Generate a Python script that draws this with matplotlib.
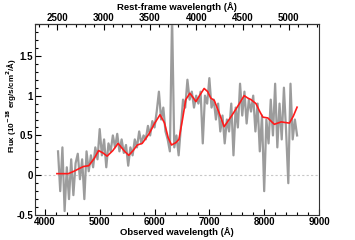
import numpy as np
import matplotlib
matplotlib.use("Agg")
import matplotlib.pyplot as plt
from matplotlib.ticker import MultipleLocator, FormatStrFormatter

plt.rcParams['font.family'] = ['Liberation Sans', 'DejaVu Sans']
plt.rcParams['font.weight'] = 'bold'
plt.rcParams['axes.unicode_minus'] = False

zplus1 = 1.69

# observed spectrum, sampled every 40 A starting at 4240 A
wave0, dwave = 4240, 40
flux = [0.30, -0.20, 0.35, -0.45, 0.10, -0.30, 0.20, -0.25, 0.15, 0.27,
        -0.05, 0.20, -0.30, 0.30, 0.05, 0.25, 0.10, 0.35, 0.20, 0.58,
        0.25, 0.45, 0.10, 0.40, 0.30, 0.50, 0.35, 0.52, 0.30, 0.45,
        0.28, 0.38, 0.12, 0.35, 0.25, 0.45, 0.35, 0.55, 0.40, 0.50,
        0.45, 0.62, 0.50, 0.68, 0.60, 0.80, 1.05, 0.70, 0.85, 0.55,
        0.45, 0.30, 2.00, 0.35, 0.50, 0.25, 0.60, 0.95, 0.85, 1.20,
        0.95, 1.05, 0.85, 1.00, 0.90, 1.05, 0.40, 1.00, 0.90, 1.22,
        0.85, 0.95, 0.70, 0.90, 0.55, 0.75, 0.40, 0.70, 0.55, 0.90,
        0.25, 0.85, 0.60, 1.15, 0.75, 1.05, 0.65, 0.95, 0.80, 1.00,
        0.55, 0.90, 0.30, 0.75, -0.20, 0.70, 0.40, 0.95, 0.50, 1.15,
        0.35, 0.90, 0.45, 1.10, 0.55, -0.10, 1.15, 0.45, 0.70, 0.50]
wave = wave0 + dwave * np.arange(len(flux))

# smooth model (red)
model_wave = [4220, 4430, 4530, 4615, 4705, 4800, 4900, 4980, 5060, 5135,
              5240, 5335, 5455, 5530, 5610, 5685, 5775, 5900, 6000, 6100,
              6180, 6250, 6310, 6390, 6445, 6510, 6570, 6645, 6700, 6755,
              6830, 6905, 6970, 7025, 7090, 7180, 7270, 7400, 7530, 7635,
              7700, 7760, 7850, 7920, 7975, 8065, 8185, 8310, 8460, 8530, 8600]
model_flux = [0.02, 0.02, 0.05, 0.08, 0.11, 0.12, 0.21, 0.31, 0.28, 0.24,
              0.31, 0.40, 0.30, 0.25, 0.31, 0.38, 0.40, 0.52, 0.65, 0.76,
              0.66, 0.47, 0.38, 0.41, 0.45, 0.70, 0.95, 1.03, 0.98, 0.925,
              1.01, 1.09, 1.05, 0.97, 0.94, 0.78, 0.61, 0.74, 0.88, 1.00,
              0.97, 0.95, 0.90, 0.80, 0.73, 0.72, 0.64, 0.67, 0.655, 0.74, 0.855]

fig = plt.figure(figsize=(3.55, 2.4), dpi=100)
ax = fig.add_axes([0.0986, 0.104, 0.80, 0.796])

ax.axhline(0, color='#c8c8c8', lw=0.8, ls=(0, (2, 2)), zorder=1)
ax.plot(wave, flux, color='#9c9c9c', lw=1.6, zorder=2)
ax.plot(model_wave, model_flux, color='#ff1a1a', lw=1.2, zorder=3)

ax.set_xlim(3820, 9000)
ax.set_ylim(-0.5, 1.9)
ax.xaxis.set_major_locator(MultipleLocator(1000))
ax.xaxis.set_minor_locator(MultipleLocator(200))
ax.yaxis.set_major_locator(MultipleLocator(0.5))
ax.yaxis.set_minor_locator(MultipleLocator(0.1))
ax.yaxis.set_major_formatter(FormatStrFormatter('%g'))
ax.tick_params(which='both', direction='in', labelsize=7, top=False, right=False, pad=1.5)
ax.tick_params(which='major', length=4, width=0.8)
ax.tick_params(which='minor', length=2, width=0.8)

ax.set_xlabel('Observed wavelength (Å)', fontsize=6.8, fontweight='bold', labelpad=0)
ax.set_ylabel(r'Flux (10$^{\mathbf{-18}}$ erg/s/cm$^{\mathbf{2}}$/Å)', fontsize=5.8,
              fontweight='bold')
ax.yaxis.set_label_coords(-0.055, 0.57)

top = ax.secondary_xaxis('top', functions=(lambda x: x / zplus1, lambda x: x * zplus1))
top.xaxis.set_major_locator(MultipleLocator(500))
top.xaxis.set_minor_locator(MultipleLocator(100))
top.tick_params(which='both', direction='in', labelsize=7, pad=1)
top.tick_params(which='major', length=4, width=0.8)
top.tick_params(which='minor', length=2, width=0.8)
top.set_xlabel('Rest-frame wavelength (Å)', fontsize=6.8, fontweight='bold', labelpad=2)

for s in ax.spines.values():
    s.set_linewidth(0.8)
    s.set_color('#333333')

fig.savefig('out.png', dpi=100)
